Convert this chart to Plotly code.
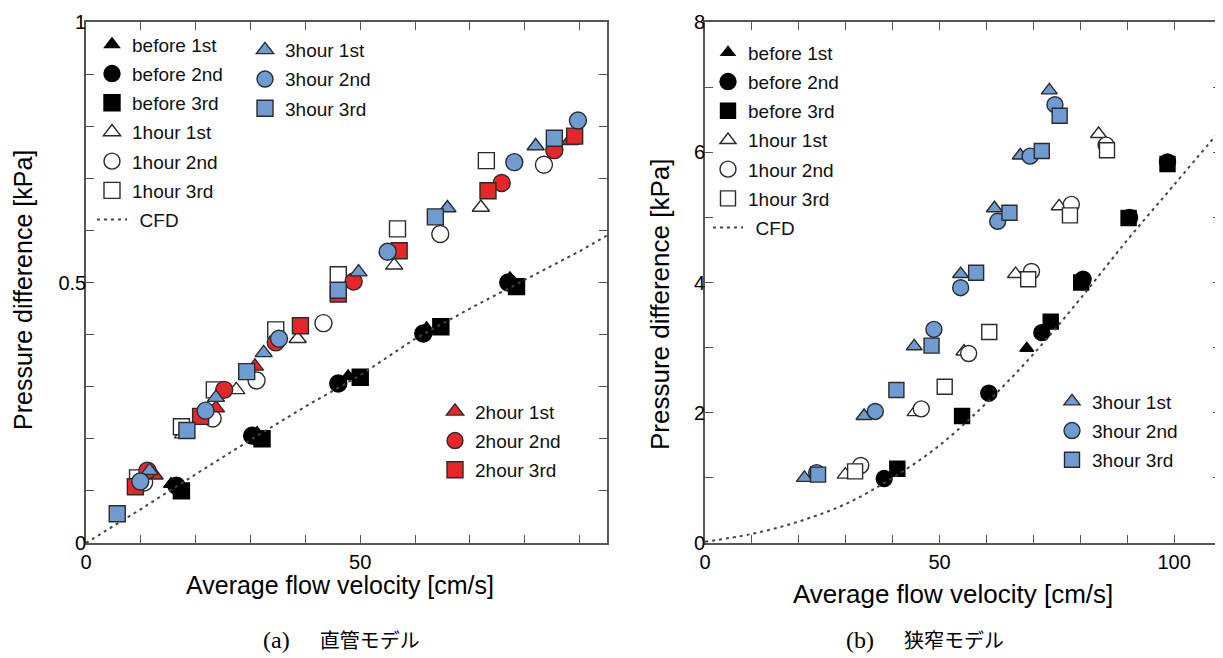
import plotly.graph_objects as go

# ---------------- (a) straight pipe model ----------------
a_before1_x = [15.5, 31.2, 47.8, 62.1, 77.3]
a_before1_y = [0.113, 0.211, 0.320, 0.412, 0.508]
a_before2_x = [16.5, 30.3, 46.0, 61.5, 77.0]
a_before2_y = [0.110, 0.206, 0.306, 0.402, 0.500]
a_before3_x = [17.4, 32.1, 50.0, 64.7, 78.5]
a_before3_y = [0.100, 0.200, 0.318, 0.415, 0.492]

a_1h1_x = [17.7, 27.4, 38.6, 56.2, 72.0]
a_1h1_y = [0.209, 0.294, 0.392, 0.533, 0.644]
a_1h2_x = [10.6, 23.1, 31.1, 43.3, 64.6, 83.5]
a_1h2_y = [0.116, 0.239, 0.312, 0.422, 0.593, 0.726]
a_1h3_x = [9.4, 17.4, 23.4, 34.6, 46.0, 56.8, 73.0]
a_1h3_y = [0.125, 0.223, 0.294, 0.409, 0.515, 0.603, 0.734]

a_2h1_x = [12.5, 23.7, 30.8, 88.2]
a_2h1_y = [0.130, 0.259, 0.339, 0.772]
a_2h2_x = [11.2, 25.2, 34.6, 48.8, 75.8, 85.4]
a_2h2_y = [0.139, 0.294, 0.385, 0.502, 0.691, 0.754]
a_2h3_x = [9.0, 20.9, 39.1, 46.0, 57.1, 73.3, 89.1]
a_2h3_y = [0.108, 0.243, 0.417, 0.478, 0.561, 0.676, 0.781]

a_3h1_x = [11.6, 23.7, 32.4, 49.7, 65.9, 82.0]
a_3h1_y = [0.139, 0.279, 0.365, 0.520, 0.643, 0.762]
a_3h2_x = [9.9, 21.8, 35.2, 55.0, 78.1, 89.7]
a_3h2_y = [0.118, 0.254, 0.392, 0.559, 0.731, 0.811]
a_3h3_x = [5.7, 18.4, 29.3, 46.0, 63.7, 85.4]
a_3h3_y = [0.056, 0.216, 0.329, 0.485, 0.626, 0.777]

a_cfd_x = [0, 10, 20, 30, 40, 50, 60, 70, 80, 90, 95]
a_cfd_y = [0, 0.065, 0.132, 0.198, 0.262, 0.322, 0.392, 0.450, 0.505, 0.560, 0.590]

# ---------------- (b) stenosis model ----------------
b_before1_x = [68.6, 80.5, 90.4, 98.6]
b_before1_y = [2.99, 4.05, 5.00, 5.85]
b_before2_x = [38.2, 60.5, 71.8, 80.6, 90.5, 98.6]
b_before2_y = [0.99, 2.30, 3.23, 4.05, 5.00, 5.85]
b_before3_x = [41.0, 54.8, 73.7, 80.2, 90.3, 98.6]
b_before3_y = [1.14, 1.95, 3.40, 4.00, 4.99, 5.82]

b_1h1_x = [29.9, 44.8, 55.2, 66.2, 75.5, 83.9]
b_1h1_y = [1.05, 2.01, 2.94, 4.13, 5.17, 6.28]
b_1h2_x = [33.2, 46.1, 56.2, 69.6, 78.1, 85.5]
b_1h2_y = [1.19, 2.06, 2.91, 4.17, 5.20, 6.11]
b_1h3_x = [32.0, 51.1, 60.6, 68.9, 77.8, 85.7]
b_1h3_y = [1.10, 2.40, 3.24, 4.05, 5.03, 6.03]

b_3h1_x = [21.2, 33.9, 44.6, 54.5, 61.7, 67.2, 73.4]
b_3h1_y = [1.00, 1.95, 3.02, 4.13, 5.14, 5.95, 6.95]
b_3h2_x = [23.8, 36.3, 48.8, 54.5, 62.4, 69.3, 74.6]
b_3h2_y = [1.08, 2.02, 3.28, 3.92, 4.94, 5.94, 6.73]
b_3h3_x = [24.1, 40.8, 48.3, 57.8, 64.9, 71.8, 75.6]
b_3h3_y = [1.05, 2.35, 3.03, 4.15, 5.07, 6.02, 6.56]

b_cfd_x = [0, 10, 20, 30, 40, 50, 60, 70, 80, 90, 100, 110]
b_cfd_y = [0.02, 0.14, 0.33, 0.60, 1.00, 1.50, 2.15, 2.90, 3.75, 4.65, 5.50, 6.35]

# ticks
a_xtickvals = [0, 10, 20, 30, 40, 50, 60, 70, 80, 90]
a_xticktext = ["0", "", "", "", "", "50", "", "", "", ""]
a_ytickvals = [0, 0.1, 0.2, 0.3, 0.4, 0.5, 0.6, 0.7, 0.8, 0.9, 1.0]
a_yticktext = ["0", "", "", "", "", "0.5", "", "", "", "", "1"]
b_xtickvals = [0, 10, 20, 30, 40, 50, 60, 70, 80, 90, 100, 110]
b_xticktext = ["0", "", "", "", "", "50", "", "", "", "", "100", ""]
b_ytickvals = [0, 1, 2, 3, 4, 5, 6, 7, 8]
b_yticktext = ["0", "", "2", "", "4", "", "6", "", "8"]

captions = ["<span style='font-size:24px'>(a)</span>\u3000\u2002直管モデル",
            "<span style='font-size:24px'>(b)</span>\u3000\u2002狭窄モデル"]
xtitle = "Average flow velocity [cm/s]"
ytitle = "Pressure difference [kPa]"
cfd_name = "\u2009\u2009CFD"

BLUE = "#6e9bd2"
RED = "#e8262a"
EDGE = "#2b2b2b"
FONT = "Liberation Sans, Arial, sans-serif"

W, H = 1223, 658
OFF = 8  # page body margin offset

fig = go.Figure()


def add(x, y, name, symbol, fill, size, xa, ya, legend, group, edge=EDGE):
    fig.add_trace(go.Scatter(
        x=x, y=y, mode="markers", name=name,
        xaxis=xa, yaxis=ya, legend=legend, legendgroup=group,
        marker=dict(symbol=symbol, size=size, color=fill,
                    line=dict(color=edge, width=1.4)),
        hoverinfo="skip"))


# panel (a)
add(a_before1_x, a_before1_y, "before 1st", "triangle-up", "black", 13, "x", "y", "legend", "a1", "black")
add(a_before2_x, a_before2_y, "before 2nd", "circle", "black", 17, "x", "y", "legend", "a2", "black")
add(a_before3_x, a_before3_y, "before 3rd", "square", "black", 16, "x", "y", "legend", "a3", "black")
add(a_1h1_x, a_1h1_y, "1hour 1st", "triangle-up", "white", 15, "x", "y", "legend", "a4")
add(a_1h2_x, a_1h2_y, "1hour 2nd", "circle", "white", 17, "x", "y", "legend", "a5")
add(a_1h3_x, a_1h3_y, "1hour 3rd", "square", "white", 16, "x", "y", "legend", "a6")
fig.add_trace(go.Scatter(x=a_cfd_x, y=a_cfd_y, mode="lines", name=cfd_name,
                         xaxis="x", yaxis="y", legend="legend", legendgroup="a7",
                         line=dict(color="#444444", width=2, dash="3px,4px"),
                         hoverinfo="skip"))
add(a_2h1_x, a_2h1_y, "2hour 1st", "triangle-up", RED, 15, "x", "y", "legend3", "a8")
add(a_2h2_x, a_2h2_y, "2hour 2nd", "circle", RED, 17, "x", "y", "legend3", "a9")
add(a_2h3_x, a_2h3_y, "2hour 3rd", "square", RED, 16, "x", "y", "legend3", "a10")
add(a_3h1_x, a_3h1_y, "3hour 1st", "triangle-up", BLUE, 15, "x", "y", "legend2", "a11")
add(a_3h2_x, a_3h2_y, "3hour 2nd", "circle", BLUE, 17, "x", "y", "legend2", "a12")
add(a_3h3_x, a_3h3_y, "3hour 3rd", "square", BLUE, 16, "x", "y", "legend2", "a13")

# panel (b)
add(b_before1_x, b_before1_y, "before 1st", "triangle-up", "black", 12, "x2", "y2", "legend4", "b1", "black")
add(b_before2_x, b_before2_y, "before 2nd", "circle", "black", 16, "x2", "y2", "legend4", "b2", "black")
add(b_before3_x, b_before3_y, "before 3rd", "square", "black", 15, "x2", "y2", "legend4", "b3", "black")
add(b_1h1_x, b_1h1_y, "1hour 1st", "triangle-up", "white", 14, "x2", "y2", "legend4", "b4")
add(b_1h2_x, b_1h2_y, "1hour 2nd", "circle", "white", 16, "x2", "y2", "legend4", "b5")
add(b_1h3_x, b_1h3_y, "1hour 3rd", "square", "white", 15, "x2", "y2", "legend4", "b6")
fig.add_trace(go.Scatter(x=b_cfd_x, y=b_cfd_y, mode="lines", name=cfd_name,
                         xaxis="x2", yaxis="y2", legend="legend4", legendgroup="b7",
                         line=dict(color="#444444", width=2, dash="3px,4px", shape="spline"),
                         hoverinfo="skip"))
add(b_3h1_x, b_3h1_y, "3hour 1st", "triangle-up", BLUE, 14, "x2", "y2", "legend5", "b8")
add(b_3h2_x, b_3h2_y, "3hour 2nd", "circle", BLUE, 16, "x2", "y2", "legend5", "b9")
add(b_3h3_x, b_3h3_y, "3hour 3rd", "square", BLUE, 15, "x2", "y2", "legend5", "b10")

axis_common = dict(showgrid=False, zeroline=False, showline=True, linecolor="#555555",
                   linewidth=1.6, mirror="ticks", ticks="inside", ticklen=8,
                   tickwidth=1.4, tickcolor="#555555", automargin=False,
                   tickfont=dict(family=FONT, size=20, color="black"))


def px2x(p):
    return (p - OFF) / W


def px2y(p):
    return (H - (p - OFF)) / H


fig.update_layout(
    width=W, height=H, margin=dict(l=0, r=0, t=0, b=0, autoexpand=False),
    paper_bgcolor="white", plot_bgcolor="white", showlegend=True,
    xaxis=dict(domain=[px2x(86), px2x(607)], range=[0, 95], tickmode="array",
               tickvals=a_xtickvals, ticktext=a_xticktext, anchor="y", **axis_common),
    yaxis=dict(domain=[px2y(543), px2y(22)], range=[0, 1], tickmode="array",
               tickvals=a_ytickvals, ticktext=a_yticktext, anchor="x",
               ticklabelstandoff=-6, **axis_common),
    xaxis2=dict(domain=[px2x(705), px2x(1221)], range=[0, 110], tickmode="array",
                tickvals=b_xtickvals, ticktext=b_xticktext, anchor="y2", **axis_common),
    yaxis2=dict(domain=[px2y(543), px2y(22)], range=[0, 8], tickmode="array",
                tickvals=b_ytickvals, ticktext=b_yticktext, anchor="x2",
                ticklabelstandoff=-6, **axis_common),
)

leg_common = dict(bgcolor="rgba(0,0,0,0)", borderwidth=0, xanchor="left", yanchor="top",
                  font=dict(family=FONT, size=19, color="#111111"), tracegroupgap=1.5,
                  itemwidth=30)
fig.update_layout(
    legend=dict(x=px2x(92), y=px2y(25.5), **leg_common),
    legend2=dict(x=px2x(245), y=px2y(31), **leg_common),
    legend3=dict(x=px2x(435), y=px2y(392.5), **leg_common),
    legend4=dict(x=px2x(708), y=px2y(33.5), **leg_common),
    legend5=dict(x=px2x(1052), y=px2y(382.5), **leg_common),
)

ann = []
title_font_l = dict(family=FONT, size=25, color="black")
title_font_r = dict(family=FONT, size=26, color="black")
ann.append(dict(text=ytitle, x=px2x(23), y=px2y(290), xref="paper", yref="paper",
                textangle=-90, showarrow=False, font=title_font_l, xanchor="center", yanchor="middle"))
ann.append(dict(text=xtitle, x=px2x(340), y=px2y(585), xref="paper", yref="paper",
                showarrow=False, font=title_font_l, xanchor="center", yanchor="middle"))
ann.append(dict(text=ytitle, x=px2x(660), y=px2y(305), xref="paper", yref="paper",
                textangle=-90, showarrow=False, font=title_font_r, xanchor="center", yanchor="middle"))
ann.append(dict(text=xtitle, x=px2x(953), y=px2y(594), xref="paper", yref="paper",
                showarrow=False, font=title_font_r, xanchor="center", yanchor="middle"))
cap_font = dict(family="Liberation Serif, Noto Sans CJK JP, serif", size=20, color="black")
ann.append(dict(text=captions[0], x=px2x(341), y=px2y(640), xref="paper", yref="paper",
                showarrow=False, font=cap_font, xanchor="center", yanchor="middle"))
ann.append(dict(text=captions[1], x=px2x(925), y=px2y(640), xref="paper", yref="paper",
                showarrow=False, font=cap_font, xanchor="center", yanchor="middle"))
fig.update_layout(annotations=ann)

fig.write_html("out.html")
